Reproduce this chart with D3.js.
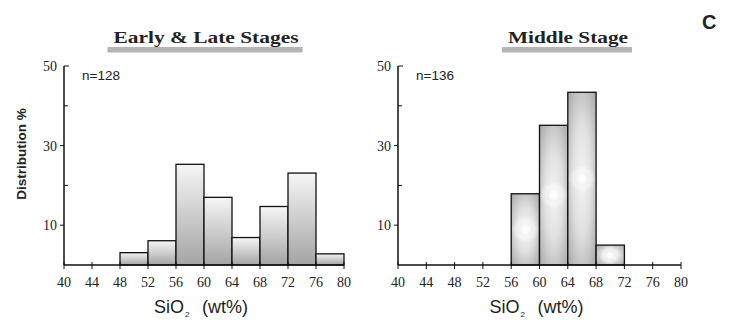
<!DOCTYPE html>
<html>
<head>
<meta charset="utf-8">
<script src="https://cdn.jsdelivr.net/npm/d3@7"></script>
<style>
  body { margin: 0; background: #fff; }
  svg { display: block; }
</style>
</head>
<body>
<div id="chart"></div>
<script>
// histogram bins (SiO2 wt%) and distribution %
const binStarts = [40, 44, 48, 52, 56, 60, 64, 68, 72, 76];
const earlyLate = [0, 0, 3.1, 6.1, 25.3, 17.0, 6.9, 14.7, 23.1, 2.8];
const middle = [0, 0, 0, 0, 17.9, 35.1, 43.4, 5.0, 0, 0];
const xTicks = [40, 44, 48, 52, 56, 60, 64, 68, 72, 76, 80];
const yLabelled = [50, 30, 10];
const yMinor = [40, 20];

const width = 733, height = 320;
const svg = d3.select('#chart').append('svg')
    .attr('width', width)
    .attr('height', height);

const defs = svg.append('defs');

// left bars: light top -> darker bottom
const lg = defs.append('linearGradient')
    .attr('id', 'gradLeft')
    .attr('x1', 0).attr('y1', 0).attr('x2', 0).attr('y2', 1);
lg.append('stop').attr('offset', '0%').attr('stop-color', '#f6f6f6');
lg.append('stop').attr('offset', '100%').attr('stop-color', '#a4a4a4');

// right bars: grey with a bright middle
const rg = defs.append('radialGradient')
    .attr('id', 'gradRight')
    .attr('cx', 0.5).attr('cy', 0.5).attr('r', 0.8);
rg.append('stop').attr('offset', '0%').attr('stop-color', '#f4f4f4');
rg.append('stop').attr('offset', '40%').attr('stop-color', '#e0e0e0');
rg.append('stop').attr('offset', '100%').attr('stop-color', '#989898');

const spot = defs.append('radialGradient').attr('id', 'spot');
spot.append('stop').attr('offset', '0%').attr('stop-color', '#fff').attr('stop-opacity', 1);
spot.append('stop').attr('offset', '25%').attr('stop-color', '#fff').attr('stop-opacity', 0.75);
spot.append('stop').attr('offset', '45%').attr('stop-color', '#fff').attr('stop-opacity', 0.35);
spot.append('stop').attr('offset', '60%').attr('stop-color', '#fff').attr('stop-opacity', 0.5);
spot.append('stop').attr('offset', '100%').attr('stop-color', '#fff').attr('stop-opacity', 0);

const y = d3.scaleLinear().domain([0, 50]).range([265, 66]);

function panel(x0, x1, values, title, titleX, titleWidth, n, fill, withSpots) {
    const x = d3.scaleLinear().domain([40, 80]).range([x0, x1]);
    const g = svg.append('g');

    const bins = binStarts.map((s, i) => ({start: s, v: values[i]})).filter(d => d.v > 0);

    g.selectAll('rect.bar')
        .data(bins)
        .enter()
        .append('rect')
            .attr('class', 'bar')
            .attr('x', d => x(d.start))
            .attr('y', d => y(d.v))
            .attr('width', d => x(d.start + 4) - x(d.start))
            .attr('height', d => y(0) - y(d.v))
            .attr('fill', fill)
            .attr('stroke', '#111')
            .attr('stroke-width', 1.3);

    if (withSpots) {
        g.selectAll('circle.spot')
            .data(bins)
            .enter()
            .append('circle')
                .attr('cx', d => x(d.start + 2))
                .attr('cy', d => (y(d.v) + y(0)) / 2)
                .attr('r', d => Math.min(14, (y(0) - y(d.v)) / 2))
                .attr('fill', 'url(#spot)');
    }

    // x axis
    g.append('line')
        .attr('x1', x(40)).attr('x2', x(80))
        .attr('y1', y(0)).attr('y2', y(0))
        .attr('stroke', '#111').attr('stroke-width', 1.5);
    g.selectAll('line.xt')
        .data(xTicks)
        .enter()
        .append('line')
            .attr('x1', d => x(d)).attr('x2', d => x(d))
            .attr('y1', y(0) - 3).attr('y2', y(0) + 4)
            .attr('stroke', '#111').attr('stroke-width', 1);
    g.selectAll('text.xl')
        .data(xTicks)
        .enter()
        .append('text')
            .attr('x', d => x(d))
            .attr('y', 287)
            .attr('text-anchor', 'middle')
            .attr('font-family', '"Liberation Serif", serif')
            .attr('font-size', 14)
            .attr('fill', '#222')
            .text(d => d);

    // y axis
    g.append('line')
        .attr('x1', x0).attr('x2', x0)
        .attr('y1', y(0)).attr('y2', y(50))
        .attr('stroke', '#111').attr('stroke-width', 1.5);
    g.selectAll('line.yt')
        .data(yLabelled)
        .enter()
        .append('line')
            .attr('x1', d => d == 50 ? x0 : x0 - 4).attr('x2', d => d == 50 ? x0 + 5 : x0)
            .attr('y1', d => y(d)).attr('y2', d => y(d))
            .attr('stroke', '#111').attr('stroke-width', 1);
    g.selectAll('line.ym')
        .data(yMinor)
        .enter()
        .append('line')
            .attr('x1', x0).attr('x2', x0 + 4)
            .attr('y1', d => y(d)).attr('y2', d => y(d))
            .attr('stroke', '#111').attr('stroke-width', 1);
    g.selectAll('text.yl')
        .data(yLabelled)
        .enter()
        .append('text')
            .attr('x', x0 - 7)
            .attr('y', d => y(d) + 5)
            .attr('text-anchor', 'end')
            .attr('font-family', '"Liberation Serif", serif')
            .attr('font-size', 14)
            .attr('fill', '#222')
            .text(d => d);

    // n label
    g.append('text')
        .attr('x', x0 + 18)
        .attr('y', 80)
        .attr('font-family', '"Liberation Sans", Arial, sans-serif')
        .attr('font-size', 13.5)
        .attr('fill', '#222')
        .text('n=' + n);

    // title with grey underline bar
    g.append('rect')
        .attr('x', titleX - titleWidth / 2 - 6)
        .attr('y', 47)
        .attr('width', titleWidth + 10)
        .attr('height', 5.5)
        .attr('fill', '#b5b5b5');
    g.append('text')
        .attr('x', titleX)
        .attr('y', 43)
        .attr('text-anchor', 'middle')
        .attr('font-family', '"Liberation Serif", serif')
        .attr('font-weight', 'bold')
        .attr('font-size', 17)
        .attr('textLength', titleWidth)
        .attr('lengthAdjust', 'spacingAndGlyphs')
        .attr('fill', '#222')
        .text(title);

    // x axis title
    const xt = g.append('text')
        .attr('x', (x0 + x1) / 2 - 3)
        .attr('y', 313)
        .attr('text-anchor', 'middle')
        .attr('font-family', '"Liberation Sans", Arial, sans-serif')
        .attr('font-size', 18)
        .attr('fill', '#222');
    xt.append('tspan').text('SiO');
    xt.append('tspan').attr('font-size', 8).attr('dy', 4).attr('dx', 1).text('2');
    xt.append('tspan').attr('dy', -4).text('\u2002\u2009(wt%)');
}

panel(64, 344, earlyLate, 'Early & Late Stages', 206, 185, 128, 'url(#gradLeft)', false);
panel(398, 681, middle, 'Middle Stage', 568, 120, 136, 'url(#gradRight)', true);

// y axis title
svg.append('text')
    .attr('transform', 'translate(26,154) rotate(-90)')
    .attr('text-anchor', 'middle')
    .attr('font-family', '"Liberation Sans", Arial, sans-serif')
    .attr('font-weight', 'bold')
    .attr('font-size', 13.5)
    .attr('fill', '#222')
    .text('Distribution %');

// panel letter
svg.append('text')
    .attr('x', 702)
    .attr('y', 29)
    .attr('font-family', '"Liberation Sans", Arial, sans-serif')
    .attr('font-weight', 'bold')
    .attr('font-size', 20)
    .attr('fill', '#222')
    .text('C');
</script>
</body>
</html>
